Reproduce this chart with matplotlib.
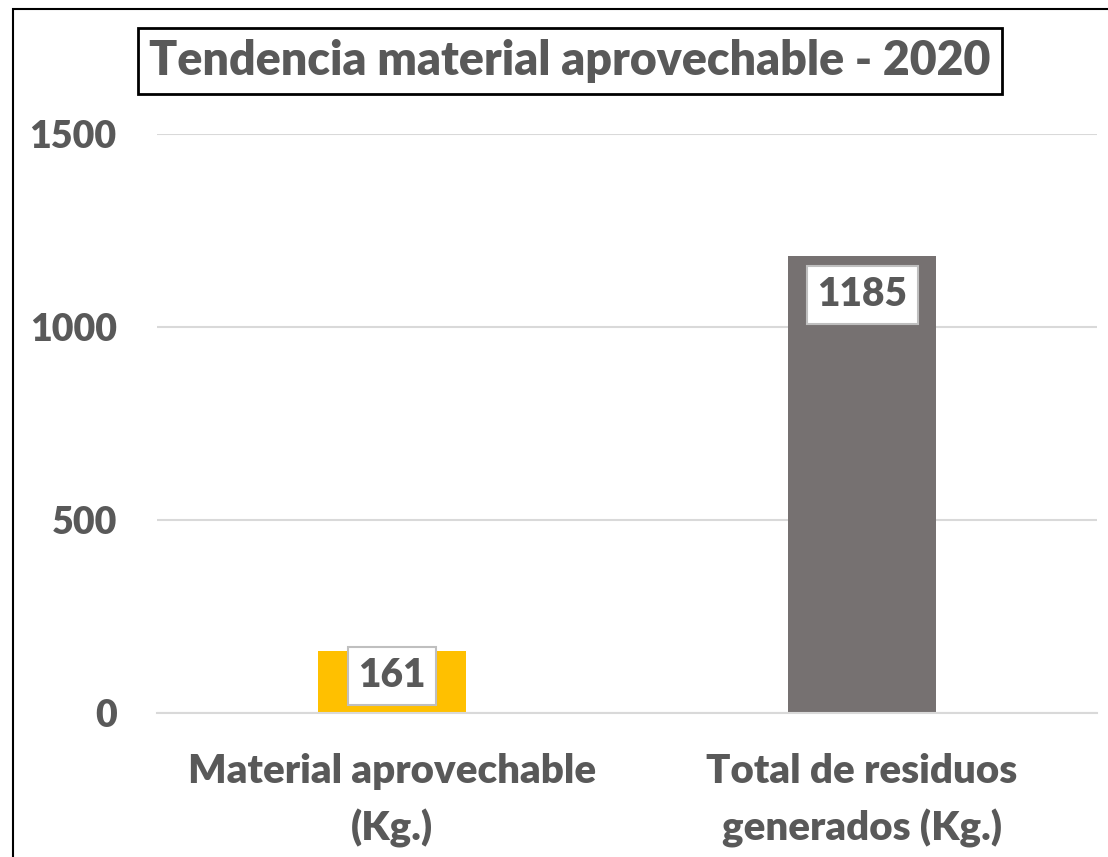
import matplotlib
matplotlib.use("Agg")
import matplotlib.pyplot as plt
from matplotlib.patches import Rectangle

categories = ["Material aprovechable\n(Kg.)", "Total de residuos\ngenerados (Kg.)"]
values = [161, 1185]
colors = ["#FFC000", "#767171"]
yticks = [0, 500, 1000, 1500]
title = "Tendencia material aprovechable - 2020"

TXT = "#595959"
W = 'heavy'
plt.rcParams['font.family'] = ['Lato', 'DejaVu Sans']
plt.rcParams['font.weight'] = W

fig = plt.figure(figsize=(11.08, 8.57), dpi=100)
ax = fig.add_axes([157/1108, 1-713/857, (1097-157)/1108, (713-134)/857])

x = range(len(categories))
ax.bar(x, values, width=0.315, color=colors, zorder=2)
ax.set_xlim(-0.5, 1.5)
ax.set_ylim(0, 1500)
ax.set_yticks(yticks)
ax.set_yticklabels([str(t) for t in yticks], fontsize=27, color=TXT, fontweight=W)
ax.set_xticks(list(x))
ax.set_xticklabels(categories, fontsize=29, color=TXT, fontweight=W, linespacing=1.58)
ax.tick_params(axis='both', length=0)
ax.tick_params(axis='y', pad=29)
ax.tick_params(axis='x', pad=29)
for s in ['top', 'right', 'left']:
    ax.spines[s].set_visible(False)
ax.spines['bottom'].set_color('#d9d9d9')
ax.spines['bottom'].set_linewidth(1.5)
ax.yaxis.grid(True, color='#d9d9d9', linewidth=1.5, zorder=0)
ax.set_axisbelow(True)

for xi, v in zip(x, values):
    ax.text(xi, max(v - 102, 96), str(v), ha='center', va='center', fontsize=28,
            color=TXT, fontweight=W, zorder=5,
            bbox=dict(boxstyle='square,pad=0.27', facecolor='white', edgecolor='#bfbfbf', linewidth=1.5))

fig.text(570/1108, 1-61/857, title, ha='center', va='center', fontsize=33.5, color=TXT,
         fontweight=W,
         bbox=dict(boxstyle='square,pad=0.24', facecolor='white', edgecolor='black', linewidth=2))

# outer frame (cropped chart border)
fig.add_artist(Rectangle((13/1108, -0.1), 1.2, 1 - 9/857 + 0.1, transform=fig.transFigure,
                         fill=False, edgecolor='black', linewidth=1.5))

fig.savefig("out.png", dpi=100)
